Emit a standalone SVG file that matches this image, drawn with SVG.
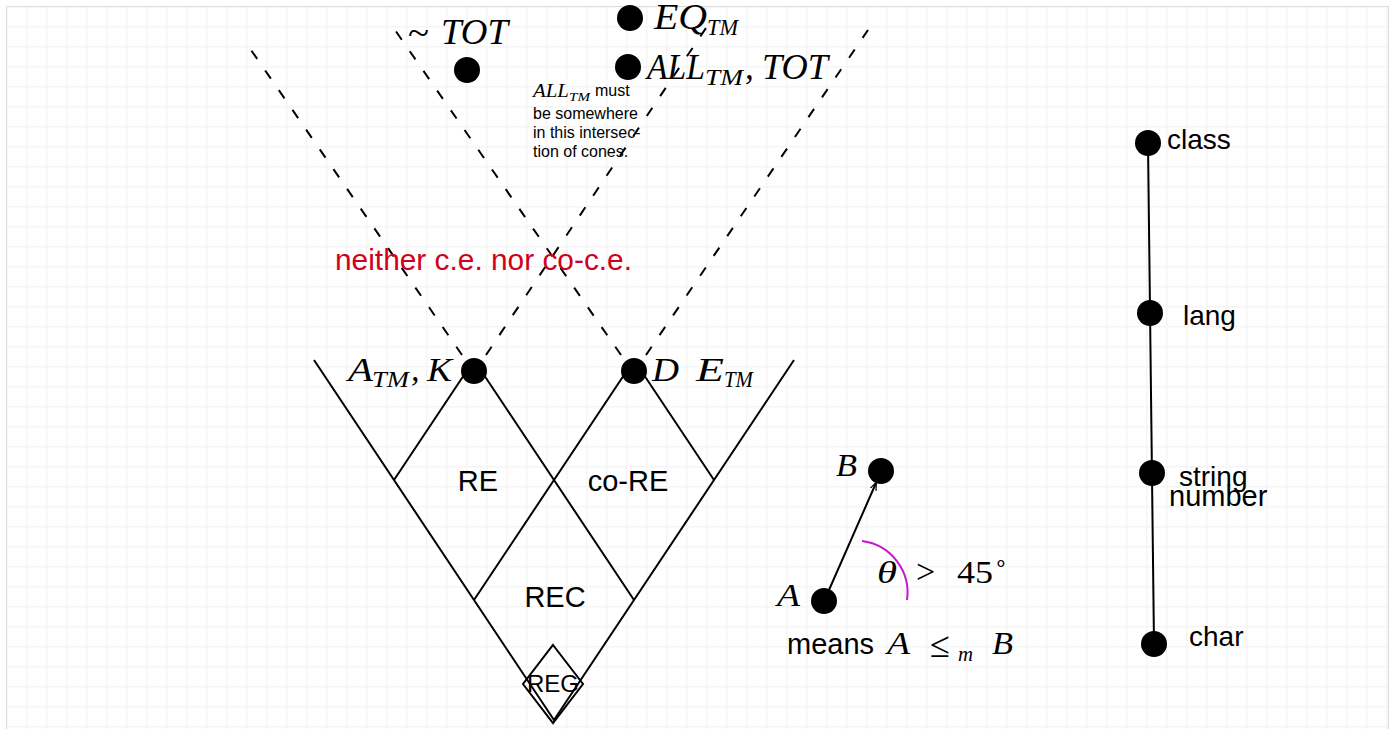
<svg xmlns="http://www.w3.org/2000/svg" width="1392" height="729" viewBox="0 0 1392 729">
<defs>
<pattern id="grid" x="6" y="6" width="20" height="20" patternUnits="userSpaceOnUse">
<path d="M0 0H20M0 0V20" stroke="#f5f5f5" stroke-width="3" fill="none"/>
</pattern>
<marker id="arr" viewBox="0 0 10 10" refX="9" refY="5" markerWidth="8" markerHeight="8" markerUnits="userSpaceOnUse" orient="auto">
<path d="M0 1L10 5L0 9" fill="none" stroke="#000" stroke-width="1.5"/>
</marker>
<style>
.dot{fill:#000}
.ln{stroke:#000;stroke-width:2;fill:none}
.dash{stroke:#000;stroke-width:2;fill:none;stroke-dasharray:10 14}
.sans{font-family:"Liberation Sans",Arial,sans-serif;fill:#000}
.math{font-family:"Liberation Serif","Times New Roman",serif;font-style:italic;fill:#000}
.rm{font-family:"Liberation Serif","Times New Roman",serif;fill:#000}
</style>
</defs>
<rect x="0" y="0" width="1392" height="729" fill="#fff"/>
<rect x="6" y="6" width="1383" height="730" fill="url(#grid)"/>
<rect x="6.5" y="6.5" width="1382" height="740" fill="none" stroke="#dcdcdc" stroke-width="1"/>

<g id="connectors">
<polyline class="ln" points="314,360 554,720 794,360"/>
<polyline class="ln" points="394,480 474,360 634,600"/>
<polyline class="ln" points="474,600 634,360 714,480"/>
<line class="dash" x1="462" y1="355" x2="251" y2="50"/>
<line class="dash" x1="486" y1="355" x2="706" y2="28"/>
<line class="dash" x1="621" y1="355" x2="395" y2="30"/>
<line class="dash" x1="646" y1="355" x2="868" y2="30"/>
<line class="ln" x1="1148" y1="143" x2="1154" y2="644"/>
<line class="ln" x1="829" y1="590" x2="876" y2="483" marker-end="url(#arr)"/>
<path d="M862 541A52 52 0 0 1 907 600" fill="none" stroke="#c516d0" stroke-width="2"/>
</g>

<g id="region-labels">
<text class="sans" x="478" y="491" font-size="29" text-anchor="middle">RE</text>
<text class="sans" x="628" y="491" font-size="29" text-anchor="middle">co-RE</text>
<text class="sans" x="555" y="607" font-size="29" text-anchor="middle">REC</text>
<text class="sans" x="335" y="270" font-size="29" style="fill:#d0021b" textLength="297" lengthAdjust="spacingAndGlyphs">neither c.e. nor co-c.e.</text>
</g>

<g id="node-reg">
<polygon class="ln" points="553,645 583,684 553,723 523,684"/>
<text class="sans" x="553" y="692" font-size="24" text-anchor="middle">REG</text>
</g>

<g id="node-atm">
<circle class="dot" cx="474" cy="371" r="13"/>
<text class="math" x="348" y="381" font-size="34" textLength="25" lengthAdjust="spacingAndGlyphs">A</text>
<text class="math" x="372" y="387" font-size="23" textLength="37" lengthAdjust="spacingAndGlyphs">TM</text>
<text class="math" x="411" y="381" font-size="34">,</text>
<text class="math" x="427" y="381" font-size="34" textLength="25" lengthAdjust="spacingAndGlyphs">K</text>
</g>

<g id="node-d">
<circle class="dot" cx="634" cy="371" r="13"/>
<text class="math" x="652" y="381" font-size="34" textLength="27" lengthAdjust="spacingAndGlyphs">D</text>
<text class="math" x="696" y="381" font-size="34" textLength="28" lengthAdjust="spacingAndGlyphs">E</text>
<text class="math" x="724" y="387" font-size="23" textLength="29" lengthAdjust="spacingAndGlyphs">TM</text>
</g>

<g id="node-tot">
<circle class="dot" cx="467" cy="70" r="13"/>
<text class="rm" x="408" y="45" font-size="36" textLength="21" lengthAdjust="spacingAndGlyphs">~</text>
<text class="math" x="441" y="44" font-size="35" textLength="67" lengthAdjust="spacingAndGlyphs">TOT</text>
</g>

<g id="node-eq">
<circle class="dot" cx="630" cy="18" r="13"/>
<text class="math" x="654" y="29" font-size="35" textLength="53" lengthAdjust="spacingAndGlyphs">EQ</text>
<text class="math" x="707" y="35" font-size="24" textLength="31" lengthAdjust="spacingAndGlyphs">TM</text>
</g>

<g id="node-all">
<circle class="dot" cx="628" cy="67" r="13"/>
<text class="math" x="647" y="79" font-size="35" textLength="58" lengthAdjust="spacingAndGlyphs">ALL</text>
<text class="math" x="705" y="85" font-size="24" textLength="38" lengthAdjust="spacingAndGlyphs">TM</text>
<text class="math" x="745" y="79" font-size="35">,</text>
<text class="math" x="762" y="79" font-size="35" textLength="66" lengthAdjust="spacingAndGlyphs">TOT</text>
</g>

<g id="note">
<text class="math" x="533" y="97" font-size="18" textLength="36" lengthAdjust="spacingAndGlyphs">ALL</text>
<text class="math" x="569" y="101" font-size="13" textLength="21" lengthAdjust="spacingAndGlyphs">TM</text>
<text class="sans" x="595" y="96" font-size="16">must</text>
<text class="sans" x="533" y="119" font-size="16">be somewhere</text>
<text class="sans" x="533" y="138" font-size="16">in this intersec-</text>
<text class="sans" x="533" y="157" font-size="16">tion of cones.</text>
</g>

<g id="node-a">
<circle class="dot" cx="824" cy="601" r="13"/>
<text class="math" x="777" y="606" font-size="32" textLength="23" lengthAdjust="spacingAndGlyphs">A</text>
</g>
<g id="node-b">
<circle class="dot" cx="881" cy="471" r="13"/>
<text class="math" x="836" y="476" font-size="32" textLength="21" lengthAdjust="spacingAndGlyphs">B</text>
</g>
<g id="legend">
<text class="math" x="877" y="583" font-size="32" textLength="20" lengthAdjust="spacingAndGlyphs">θ</text>
<text class="rm" x="916" y="583" font-size="34">&gt;</text>
<text class="rm" x="957" y="583" font-size="32" textLength="36" lengthAdjust="spacingAndGlyphs">45</text>
<text class="rm" x="994" y="570" font-size="22">∘</text>
<text class="sans" x="787" y="654" font-size="29">means</text>
<text class="math" x="887" y="654" font-size="32" textLength="23" lengthAdjust="spacingAndGlyphs">A</text>
<text class="rm" x="930" y="657" font-size="36" textLength="20" lengthAdjust="spacingAndGlyphs">≤</text>
<text class="math" x="958" y="661" font-size="22" textLength="15" lengthAdjust="spacingAndGlyphs">m</text>
<text class="math" x="992" y="654" font-size="32" textLength="21" lengthAdjust="spacingAndGlyphs">B</text>
</g>

<g id="node-class">
<circle class="dot" cx="1148" cy="143" r="13"/>
<text class="sans" x="1167" y="149" font-size="28">class</text>
</g>
<g id="node-lang">
<circle class="dot" cx="1150" cy="313" r="13"/>
<text class="sans" x="1183" y="325" font-size="28">lang</text>
</g>
<g id="node-string">
<circle class="dot" cx="1152" cy="473" r="13"/>
<text class="sans" x="1179" y="486" font-size="28">string</text>
<text class="sans" x="1169" y="506" font-size="29">number</text>
</g>
<g id="node-char">
<circle class="dot" cx="1154" cy="644" r="13"/>
<text class="sans" x="1189" y="646" font-size="28">char</text>
</g>
</svg>
